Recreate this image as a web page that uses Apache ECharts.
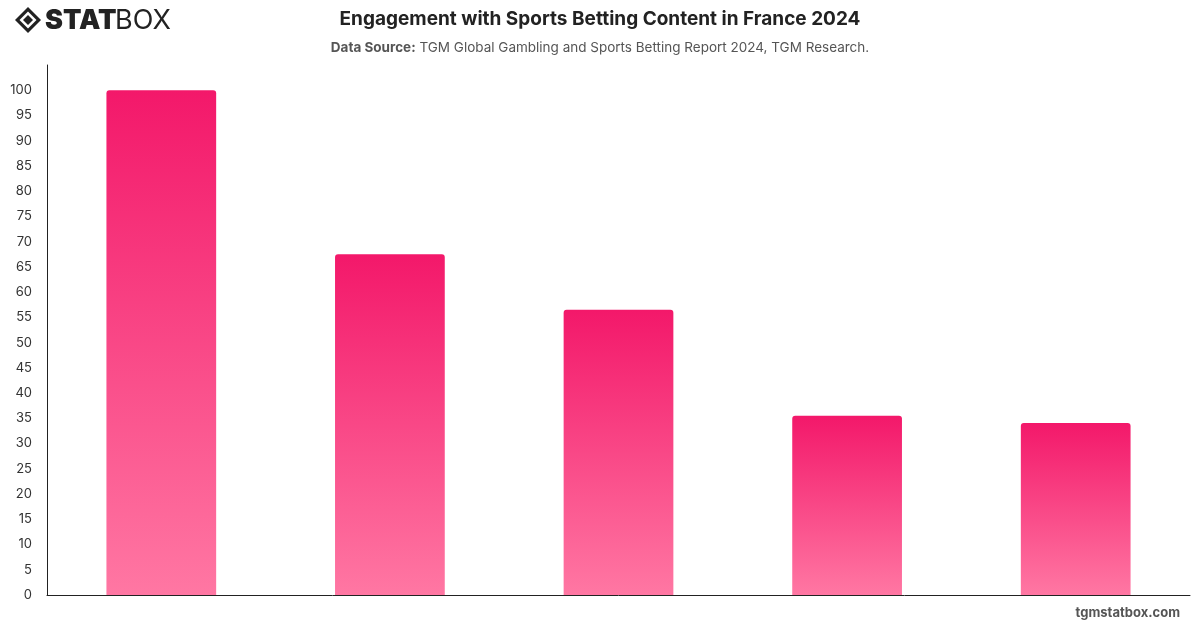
<!DOCTYPE html>
<html><head><meta charset="utf-8">
<script src="https://cdn.jsdelivr.net/npm/echarts@6/dist/echarts.min.js"></script>
<style>html,body{margin:0;padding:0;background:#fff}#c{width:1200px;height:628px}</style>
</head><body><div id="c"></div>
<script>
const categories = ['A', 'B', 'C', 'D', 'E'];
const values = [100, 67.5, 56.5, 35.5, 34.1];
const yTicks = {min: 0, max: 105, interval: 5};

const chart = echarts.init(document.getElementById('c'), null, {renderer: 'canvas'});
chart.setOption({
  backgroundColor: '#fff',
  animation: false,
  title: [
    {text: 'Engagement with Sports Betting Content in France 2024', left: 'center', top: 5,
     textStyle: {fontFamily: 'Inter', fontWeight: 'bold', fontSize: 19, color: '#222'}},
    {text: '{b|Data Source:} TGM Global Gambling and Sports Betting Report 2024, TGM Research.', left: 'center', top: 36,
     textStyle: {fontFamily: 'Inter', fontWeight: 'normal', fontSize: 13.5, color: '#555',
       rich: {b: {fontFamily: 'Inter', fontWeight: 'bold', fontSize: 13.5, color: '#555'}}}}
  ],
  grid: {left: 47, right: 10, top: 65, bottom: 33, containLabel: false},
  xAxis: {type: 'category', data: categories,
    axisLine: {show: true, lineStyle: {color: '#222', width: 1}},
    axisTick: {show: false}, axisLabel: {show: false}},
  yAxis: {type: 'value', min: yTicks.min, max: yTicks.max, interval: yTicks.interval,
    axisLine: {show: true, lineStyle: {color: '#222', width: 1}},
    axisTick: {show: false}, splitLine: {show: false},
    axisLabel: {showMaxLabel: false, color: '#333', fontFamily: 'Inter', fontSize: 13, margin: 15,
      formatter: v => v > 100 ? '' : String(v)}},
  series: [{type: 'bar', data: values, barWidth: '48%',
    itemStyle: {borderRadius: [3, 3, 0, 0],
      color: new echarts.graphic.LinearGradient(0, 0, 0, 1, [
        {offset: 0, color: '#F3186A'}, {offset: 1, color: '#FF77A3'}])}}],
  graphic: [
    {type: 'group', left: 15, top: 7, children: [
      {type: 'polygon', shape: {points: [[13,0],[26,13],[13,26],[0,13]]}, style: {fill: '#222'}},
      {type: 'polygon', shape: {points: [[13,4.5],[21.5,13],[13,21.5],[4.5,13]]}, style: {fill: '#fff'}},
      {type: 'polygon', shape: {points: [[13,8],[18,13],[13,18],[8,13]]}, style: {fill: '#222'}},
      {type: 'text', x: 30, y: 0, style: {text: 'STAT', fontFamily: 'Inter', fontWeight: 900, fontSize: 27, fill: '#222'}},
      {type: 'text', x: 100, y: 0, style: {text: 'BOX', fontFamily: 'Inter', fontWeight: 'normal', fontSize: 27, fill: '#222'}}
    ]},
    {type: 'text', right: 20, top: 607, style: {text: 'tgmstatbox.com', fontFamily: 'Inter', fontWeight: 'bold', fontSize: 13, fill: '#555'}}
  ]
});
</script></body></html>
